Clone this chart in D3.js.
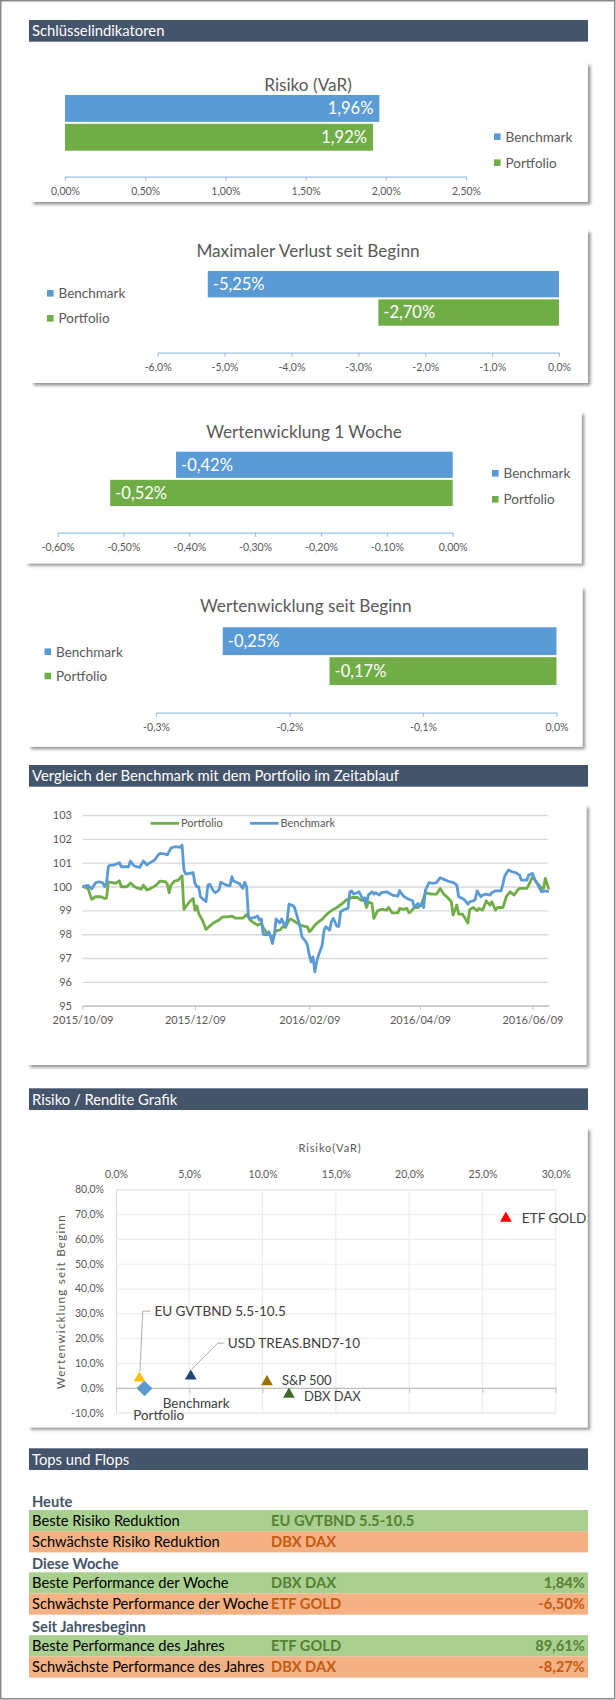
<!DOCTYPE html>
<html><head><meta charset="utf-8">
<script src="https://cdn.jsdelivr.net/npm/d3@7"></script>
<style>
body{margin:0;background:#fff;}
svg{display:block;font-family:Lato, "Open Sans", sans-serif;}
</style></head><body>
<script>
// ---------------- DATA ----------------
const sectionTitles = ["Schlüsselindikatoren", "Vergleich der Benchmark mit dem Portfolio im Zeitablauf", "Risiko / Rendite Grafik", "Tops und Flops"];
const seriesNames = ["Benchmark", "Portfolio"];
const seriesColors = ["#5B9BD5", "#70AD47"];

const barTitles = ["Risiko (VaR)", "Maximaler Verlust seit Beginn", "Wertenwicklung 1 Woche", "Wertenwicklung seit Beginn"];
const varValues = [1.96, 1.92];
const varTicks = [0, 0.5, 1, 1.5, 2, 2.5];
const maxLossValues = [-5.25, -2.70];
const maxLossTicks = [-6, -5, -4, -3, -2, -1, 0];
const weekValues = [-0.42, -0.52];
const weekTicks = [-0.6, -0.5, -0.4, -0.3, -0.2, -0.1, 0];
const sinceStartValues = [-0.25, -0.17];
const sinceStartTicks = [-0.3, -0.2, -0.1, 0];

// line chart: days since start date, index values
const lineStartDate = "2015-10-09";
const lineEndDay = 253;
const lineDateTicks = ["2015-10-09", "2015-12-09", "2016-02-09", "2016-04-09", "2016-06-09"];
const lineYTicks = [95, 96, 97, 98, 99, 100, 101, 102, 103];
const lineSeriesNames = ["Portfolio", "Benchmark"];
const benchmarkDays = [0,3,5,7,9,11,12,13,14,15,17,20,21,25,26,28,31,33,35,36,39,41,42,45,46,48,50,53,54,55,56,58,60,61,62,63,64,66,67,68,69,71,72,74,75,77,78,80,81,82,85,87,88,89,90,91,93,95,96,97,98,100,101,102,103,104,105,107,108,110,111,112,114,115,117,118,119,121,122,123,124,125,126,127,128,130,131,132,134,135,136,138,139,140,142,144,145,146,147,149,150,152,153,154,155,157,158,159,161,162,165,168,171,172,174,176,179,180,182,183,184,185,186,188,190,192,194,196,199,201,203,204,205,207,209,210,212,213,214,216,217,219,221,222,224,227,228,229,231,233,235,237,238,241,242,244,245,247,249,251,253];
const benchmarkValues = [100.0,100.05,99.9,100.15,100.2,100.15,100.0,100.13,100.83,100.9,100.9,101.0,100.83,100.83,101.07,100.86,100.8,101.07,100.9,100.97,101.1,101.32,101.39,101.36,101.33,101.61,101.67,101.64,101.74,100.69,100.52,100.55,100.58,100.13,99.99,99.99,99.57,99.43,99.37,100.06,100.1,99.82,99.74,99.85,100.18,100.1,100.06,100.03,100.41,100.23,100.13,99.92,100.18,99.99,98.73,98.66,98.69,98.76,98.59,98.64,97.99,97.97,98.1,97.89,97.61,97.96,98.64,98.47,98.64,98.31,98.59,99.26,99.2,99.12,98.59,98.31,97.89,97.7,97.54,97.12,96.84,97.05,96.42,96.84,97.12,97.54,98.17,98.31,98.17,98.52,98.66,98.33,98.33,98.94,99.04,99.08,99.78,99.81,99.68,99.74,99.78,99.46,99.53,99.29,99.64,99.78,99.68,99.74,99.64,99.74,99.78,99.64,99.6,99.82,99.6,99.5,99.4,99.12,99.29,99.18,99.29,99.12,99.85,100.16,100.13,100.16,100.37,100.3,100.2,100.17,100.06,99.57,99.54,99.46,99.26,99.36,99.4,99.46,99.82,99.57,99.64,99.68,99.64,99.74,99.82,99.82,100.1,100.44,100.69,100.62,100.58,100.48,100.27,100.27,100.48,100.55,100.34,100.06,99.78,99.82,99.78];
const portfolioDays = [0,3,4,5,7,10,12,13,14,17,18,20,21,24,26,28,30,32,33,35,37,40,42,45,46,47,48,50,52,54,55,56,58,60,61,62,63,65,67,69,71,73,74,76,79,81,83,87,89,91,93,95,97,98,100,101,103,105,107,109,110,112,113,115,118,120,122,123,124,126,128,130,132,133,136,138,139,141,143,146,149,151,153,154,155,157,158,160,162,165,166,168,171,172,174,176,177,178,180,182,184,186,189,192,194,196,198,200,201,202,203,204,206,207,209,210,212,214,215,217,219,221,222,224,225,228,230,232,234,236,237,241,242,244,246,249,250,251,253];
const portfolioValues = [100.0,99.92,99.68,99.46,99.57,99.57,99.5,99.51,100.18,100.15,100.13,100.24,99.99,99.99,100.15,100.0,99.93,99.89,100.06,99.85,99.92,100.06,100.23,100.2,100.1,99.74,100.06,100.23,100.27,100.45,99.04,99.15,99.36,99.5,99.01,99.18,98.87,98.59,98.2,98.34,98.47,98.56,98.59,98.73,98.73,98.76,98.67,98.67,98.83,98.59,98.47,98.38,98.45,98.28,98.03,98.0,97.86,98.14,98.17,98.34,98.28,98.59,98.64,98.54,98.38,98.34,98.31,98.1,98.17,98.38,98.52,98.62,98.8,98.87,99.04,99.12,99.18,99.29,99.43,99.54,99.54,99.43,99.4,99.12,99.36,99.29,98.66,98.98,99.04,99.01,99.12,98.89,98.89,99.08,99.04,99.08,98.9,98.94,99.12,99.12,99.29,99.74,99.68,99.68,99.92,99.68,99.54,99.36,98.8,99.01,99.22,98.84,98.84,98.73,98.47,99.04,99.12,98.98,99.08,99.01,99.4,99.22,99.36,99.01,99.12,99.12,99.6,99.78,99.64,99.85,99.92,99.92,100.06,100.41,100.2,99.92,99.92,100.34,99.88];

// scatter
const scatterXTitle = "Risiko(VaR)";
const scatterYTitle = "Wertenwicklung seit Beginn";
const scatterXTicks = [0, 5, 10, 15, 20, 25, 30];
const scatterYTicks = [-10, 0, 10, 20, 30, 40, 50, 60, 70, 80];
const scatterNames = ["ETF GOLD", "EU GVTBND 5.5-10.5", "USD TREAS.BND7-10", "S&P 500", "DBX DAX", "Portfolio", "Benchmark"];
const scatterRisk = [26.6, 1.6, 5.1, 10.3, 11.8, 1.92, 1.96];
const scatterReturn = [68.3, 3.9, 4.7, 2.4, -2.6, -0.17, -0.25];
const scatterColors = ["#FF0000", "#FFC000", "#264478", "#997300", "#43682B", "#70AD47", "#5B9BD5"];
const scatterShapes = ["triangle", "triangle", "triangle", "triangle", "triangle", "diamond", "diamond"];

// table
const tableSections = ["Heute", "Diese Woche", "Seit Jahresbeginn"];
const tableLabels = ["Beste Risiko Reduktion", "Schwächste Risiko Reduktion", "Beste Performance der Woche", "Schwächste Performance der Woche", "Beste Performance des Jahres", "Schwächste Performance des Jahres"];
const tableNames = ["EU GVTBND 5.5-10.5", "DBX DAX", "DBX DAX", "ETF GOLD", "ETF GOLD", "DBX DAX"];
const tableValues = [null, null, 1.84, -6.50, 89.61, -8.27];
const tableKinds = ["top", "flop", "top", "flop", "top", "flop"];

// ---------------- RENDER ----------------
const W = 616, H = 1700;
const de = d3.formatLocale({decimal: ",", thousands: ".", grouping: [3], currency: ["", "€"], minus: "-"});
const pct = d => v => de.format("." + d + "f")(v) + "%";
const GRAY = "#595959";

const svg = d3.select("body").append("svg").attr("width", W).attr("height", H);
const defs = svg.append("defs");
const flt = defs.append("filter").attr("id", "shadow").attr("x", "-5%").attr("y", "-5%").attr("width", "115%").attr("height", "120%");
flt.append("feDropShadow").attr("dx", 2.5).attr("dy", 2.5).attr("stdDeviation", 1.4).attr("flood-color", "#000").attr("flood-opacity", 0.42);

svg.append("rect").attr("x", 0.75).attr("y", 0.75).attr("width", 614).attr("height", 1698)
  .attr("fill", "#fff").attr("stroke", "#8a8a8a").attr("stroke-width", 1.5);

const headerYs = [20, 765, 1088.3, 1448.3];
sectionTitles.forEach((t, i) => {
  svg.append("rect").attr("x", 29).attr("y", headerYs[i]).attr("width", 559).attr("height", 21.7).attr("fill", "#44546A");
  svg.append("text").attr("x", 32).attr("y", headerYs[i] + 16.2).attr("fill", "#fff").attr("font-size", 14.8).text(t);
});

function box(b) {
  svg.append("rect").attr("x", b[0]).attr("y", b[1]).attr("width", b[2] - b[0]).attr("height", b[3] - b[1])
    .attr("fill", "#fff").attr("filter", "url(#shadow)");
}

// ----- bar charts -----
const barData = [varValues, maxLossValues, weekValues, sinceStartValues];
const barTicks = [varTicks, maxLossTicks, weekTicks, sinceStartTicks];
const barLayouts = [
  {box: [31, 63, 588, 202], tx: 308, ty: 90.7, range: [65, 466], band: [95, 150.7], axisY: 176.7, legend: "right", legX: 494, legY: [136.7, 162.7], label: "end", dec: 2},
  {box: [31, 230, 588, 383], tx: 308, ty: 256.7, range: [157.6, 559], band: [271, 325.7], axisY: 352.7, legend: "left", legX: 47, legY: [293.3, 318.3], label: "start", dec: 1},
  {box: [26, 411.7, 581.6, 563.3], tx: 304, ty: 438, range: [57.5, 452.7], band: [451.7, 506], axisY: 532.7, legend: "right", legX: 492, legY: [473.3, 499.3], label: "start", dec: 2},
  {box: [28.3, 586.7, 582.4, 746.7], tx: 305.8, ty: 611.7, range: [156, 556.5], band: [627.3, 685], axisY: 712.7, legend: "left", legX: 44.5, legY: [651.7, 676], label: "start", dec: 1}
];

barLayouts.forEach((L, ci) => {
  box(L.box);
  const vals = barData[ci];
  const ticks = barTicks[ci];
  svg.append("text").attr("x", L.tx).attr("y", L.ty).attr("text-anchor", "middle")
    .attr("fill", GRAY).attr("font-size", 17.2).text(barTitles[ci]);
  const x = d3.scaleLinear().domain(d3.extent(ticks)).range(L.range);
  const y = d3.scaleBand().domain(seriesNames).range(L.band).paddingInner(0.07);
  const g = svg.append("g");
  g.selectAll("rect").data(seriesNames).join("rect")
    .attr("x", (d, i) => x(Math.min(0, vals[i])))
    .attr("width", (d, i) => Math.abs(x(vals[i]) - x(0)))
    .attr("y", d => y(d)).attr("height", y.bandwidth())
    .attr("fill", (d, i) => seriesColors[i]);
  g.selectAll("text.lbl").data(seriesNames).join("text").attr("class", "lbl")
    .attr("x", (d, i) => L.label === "end" ? x(vals[i]) - 6 : x(Math.min(0, vals[i])) + 5)
    .attr("text-anchor", L.label === "end" ? "end" : "start")
    .attr("y", d => y(d) + y.bandwidth() / 2).attr("dy", "0.36em")
    .attr("fill", "#fff").attr("font-size", 16.5)
    .text((d, i) => pct(2)(vals[i]));
  const ax = svg.append("g").attr("transform", `translate(0,${L.axisY})`)
    .call(d3.axisBottom(x).tickValues(ticks).tickSize(4).tickSizeOuter(0).tickPadding(7).tickFormat(pct(L.dec)));
  ax.select(".domain").attr("stroke", "#9DC3E6").attr("stroke-width", 1.2);
  ax.selectAll(".tick line").attr("stroke", "#9DC3E6").attr("stroke-width", 1.2);
  ax.selectAll(".tick text").attr("fill", GRAY).attr("font-size", 10.5);
  ax.attr("font-family", null);
  // legend
  seriesNames.forEach((n, i) => {
    svg.append("rect").attr("x", L.legX).attr("y", L.legY[i] - 3.3).attr("width", 6.6).attr("height", 6.6).attr("fill", seriesColors[i]);
    svg.append("text").attr("x", L.legX + 11.5).attr("y", L.legY[i]).attr("dy", "0.36em")
      .attr("fill", GRAY).attr("font-size", 13.5).text(n);
  });
});

// ----- line chart -----
(function () {
  box([27.5, 805, 586.4, 1065]);
  const parse = d3.timeParse("%Y-%m-%d");
  const start = parse(lineStartDate);
  const toDate = d => d3.timeDay.offset(start, d);
  const x = d3.scaleTime().domain([start, toDate(lineEndDay)]).range([82.5, 549]);
  const y = d3.scaleLinear().domain([95, 103]).range([1005.7, 815]);
  const gy = svg.append("g").attr("transform", "translate(82.5,0)")
    .call(d3.axisLeft(y).tickValues(lineYTicks).tickSize(-466).tickPadding(10.5).tickFormat(d3.format("d")));
  gy.select(".domain").remove();
  gy.selectAll(".tick line").attr("stroke", "#D9D9D9").attr("stroke-width", 1.4);
  gy.selectAll(".tick text").attr("fill", GRAY).attr("font-size", 11);
  gy.attr("font-family", null);
  const gx = svg.append("g").attr("transform", `translate(0,${y(95)})`)
    .call(d3.axisBottom(x).tickValues(lineDateTicks.map(parse)).tickSize(4).tickSizeOuter(0).tickPadding(7).tickFormat(d3.timeFormat("%Y/%m/%d")));
  gx.select(".domain").attr("stroke", "#BFBFBF").attr("stroke-width", 1.2);
  gx.selectAll(".tick line").attr("stroke", "#BFBFBF");
  gx.selectAll(".tick text").attr("fill", GRAY).attr("font-size", 11);
  gx.attr("font-family", null);
  const line = d3.line().x(d => x(toDate(d[0]))).y(d => y(d[1]));
  const pf = portfolioDays.map((d, i) => [d, portfolioValues[i]]);
  const bm = benchmarkDays.map((d, i) => [d, benchmarkValues[i]]);
  svg.append("path").datum(pf).attr("d", line).attr("fill", "none").attr("stroke", "#70AD47").attr("stroke-width", 2.8).attr("stroke-linejoin", "round");
  svg.append("path").datum(bm).attr("d", line).attr("fill", "none").attr("stroke", "#5B9BD5").attr("stroke-width", 2.8).attr("stroke-linejoin", "round");
  const legX = [150.5, 250], legCol = ["#70AD47", "#5B9BD5"];
  lineSeriesNames.forEach((n, i) => {
    svg.append("line").attr("x1", legX[i]).attr("x2", legX[i] + 28.5).attr("y1", 823.3).attr("y2", 823.3)
      .attr("stroke", legCol[i]).attr("stroke-width", 2.8);
    svg.append("text").attr("x", legX[i] + 30.5).attr("y", 823.3).attr("dy", "0.36em").attr("fill", GRAY).attr("font-size", 11).text(n);
  });
})();

// ----- scatter -----
(function () {
  box([28.3, 1127.7, 587.6, 1427.3]);
  const x = d3.scaleLinear().domain([0, 30]).range([116, 555.7]);
  const y = d3.scaleLinear().domain([-10, 80]).range([1412.7, 1189.3]);
  svg.append("g").selectAll("line").data(scatterXTicks.slice(1)).join("line")
    .attr("x1", d => x(d)).attr("x2", d => x(d)).attr("y1", y(80)).attr("y2", y(-10))
    .attr("stroke", "#EDEDED").attr("stroke-width", 1.2);
  const gy = svg.append("g").attr("transform", `translate(${x(0)},0)`)
    .call(d3.axisLeft(y).tickValues(scatterYTicks).tickSize(-(x(30) - x(0))).tickPadding(12).tickFormat(pct(1)));
  gy.select(".domain").attr("stroke", "#D9D9D9");
  gy.selectAll(".tick line").attr("stroke", "#EDEDED").attr("stroke-width", 1.2);
  gy.selectAll(".tick text").attr("fill", GRAY).attr("font-size", 10.5);
  gy.attr("font-family", null);
  const gxTop = svg.append("g").attr("transform", `translate(0,${y(80)})`)
    .call(d3.axisTop(x).tickValues(scatterXTicks).tickSize(0).tickPadding(11.5).tickFormat(pct(1)));
  gxTop.select(".domain").remove();
  gxTop.selectAll(".tick text").attr("fill", GRAY).attr("font-size", 10.5);
  gxTop.attr("font-family", null);
  const gx0 = svg.append("g").attr("transform", `translate(0,${y(0)})`)
    .call(d3.axisBottom(x).tickValues(scatterXTicks).tickSize(5).tickSizeOuter(0).tickFormat(""));
  gx0.select(".domain").attr("stroke", "#BFBFBF").attr("stroke-width", 1.2);
  gx0.selectAll(".tick line").attr("stroke", "#BFBFBF");
  svg.append("text").attr("x", 330).attr("y", 1148.3).attr("dy", "0.36em").attr("text-anchor", "middle")
    .attr("fill", GRAY).attr("font-size", 11).attr("letter-spacing", 0.9).text(scatterXTitle);
  svg.append("text").attr("transform", "translate(61,1301.7) rotate(-90)").attr("dy", "0.36em").attr("text-anchor", "middle")
    .attr("fill", GRAY).attr("font-size", 11.5).attr("letter-spacing", 1.3).text(scatterYTitle);

  const leaders = {1: [[0.5, -7], [3.3, -67], [11, -67]], 2: [[1, -7], [27, -33], [33, -33]]};
  Object.keys(leaders).forEach(k => {
    const px = x(scatterRisk[k]), py = y(scatterReturn[k]);
    svg.append("path").attr("d", d3.line()(leaders[k].map(p => [px + p[0], py + p[1]])))
      .attr("fill", "none").attr("stroke", "#A6A6A6").attr("stroke-width", 0.9);
  });
  const tri = d3.symbol(d3.symbolTriangle, 60);
  const dia = d3.symbol(d3.symbolSquare, 115);
  scatterNames.forEach((n, i) => {
    const px = x(scatterRisk[i]), py = y(scatterReturn[i]);
    if (scatterShapes[i] === "triangle") {
      svg.append("path").attr("d", tri()).attr("transform", `translate(${px},${py})`).attr("fill", scatterColors[i]);
    } else {
      svg.append("path").attr("d", dia()).attr("transform", `translate(${px},${py}) rotate(45)`).attr("fill", scatterColors[i]);
    }
  });
  const labelOffsets = [[16, 0], [15, -67], [37, -33], [15, -1.5], [15, 1.5], [-11, 27], [18, 14.5]];
  const labelSizes = [13.5, 13.5, 13.5, 13, 13, 13.5, 13.5];
  scatterNames.forEach((n, i) => {
    const px = x(scatterRisk[i]), py = y(scatterReturn[i]);
    svg.append("text").attr("x", px + labelOffsets[i][0]).attr("y", py + labelOffsets[i][1]).attr("dy", "0.36em")
      .attr("fill", "#404040").attr("font-size", labelSizes[i]).text(n);
  });
})();

// ----- table -----
(function () {
  const secTop = [1491.5, 1553.8, 1616.7];
  const rowH = 21.2;
  const fillC = {top: "#A9D08E", flop: "#F4B183"};
  const textC = {top: "#548235", flop: "#C55A11"};
  const fs = 14.7;
  tableSections.forEach((s, si) => {
    svg.append("text").attr("x", 32).attr("y", secTop[si] + 10).attr("dy", "0.36em")
      .attr("fill", "#44546A").attr("font-weight", "bold").attr("font-size", fs).text(s);
    [0, 1].forEach(r => {
      const i = si * 2 + r;
      const ry = secTop[si] + 18.5 + r * rowH;
      svg.append("rect").attr("x", 29).attr("y", ry).attr("width", 559).attr("height", rowH).attr("fill", fillC[tableKinds[i]]);
      svg.append("text").attr("x", 32).attr("y", ry + rowH / 2).attr("dy", "0.36em").attr("fill", "#000").attr("font-size", fs).text(tableLabels[i]);
      svg.append("text").attr("x", 271).attr("y", ry + rowH / 2).attr("dy", "0.36em").attr("fill", textC[tableKinds[i]])
        .attr("font-weight", "bold").attr("font-size", fs).text(tableNames[i]);
      if (tableValues[i] !== null) {
        svg.append("text").attr("x", 584.8).attr("y", ry + rowH / 2).attr("dy", "0.36em").attr("text-anchor", "end")
          .attr("fill", textC[tableKinds[i]]).attr("font-weight", "bold").attr("font-size", fs).text(pct(2)(tableValues[i]));
      }
    });
  });
})();
</script></body></html>
